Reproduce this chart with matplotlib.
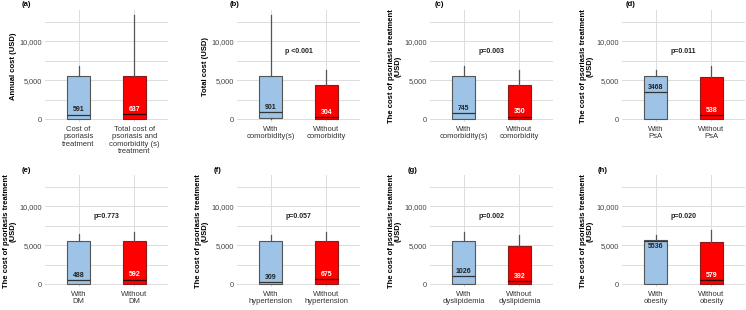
import matplotlib.pyplot as plt
from matplotlib.ticker import MultipleLocator, FuncFormatter

plt.rcParams['font.family'] = ['Liberation Sans', 'DejaVu Sans']

# Data
panel_tags = ['(a)', '(b)', '(c)', '(d)', '(e)', '(f)', '(g)', '(h)']
y_titles = ['Annual cost (USD)', 'Total cost (USD)'] + \
    ['The cost of psoriasis treatment\n(USD)'] * 6
groups = [
    ['Cost of\npsoriasis\ntreatment', 'Total cost of\npsoriasis and\ncomorbidity (s)\ntreatment'],
    ['With\ncomorbidity(s)', 'Without\ncomorbidity'],
    ['With\ncomorbidity(s)', 'Without\ncomorbidity'],
    ['With\nPsA', 'Without\nPsA'],
    ['With\nDM', 'Without\nDM'],
    ['With\nhypertension', 'Without\nhypertension'],
    ['With\ndyslipidemia', 'Without\ndyslipidemia'],
    ['With\nobesity', 'Without\nobesity'],
]
medians = [[591, 637], [901, 304], [745, 350], [3468, 538],
           [488, 592], [309, 675], [1026, 392], [5536, 579]]
q1 = [[80, 80], [120, 80], [80, 80], [80, 80],
      [80, 80], [80, 80], [80, 80], [80, 80]]
q3 = [[5500, 5600], [5600, 4350], [5500, 4350], [5500, 5400],
      [5550, 5550], [5550, 5550], [5550, 4850], [5650, 5450]]
whisk_hi = [[6800, 13300], [13300, 6350], [6800, 6300], [6300, 6800],
            [6450, 6750], [6350, 6750], [6750, 6350], [6350, 7000]]
p_text = ['', 'p <0.001', 'p=0.003', 'p=0.011',
          'p=0.773', 'p=0.057', 'p=0.002', 'p=0.020']

box_colors = ['#9dc3e6', '#ff0000']
label_colors = ['#222222', 'white']

W, H = 746, 310
fig = plt.figure(figsize=(W / 100, H / 100), dpi=100)

col_left = [45, 237, 430, 622]
ax_w = 123
row_top = [10, 175]
ax_h = 112
tag_x = [22, 230, 435, 626, 22, 214, 408, 598]
tag_y = [5, 170]

for i in range(8):
    r, c = divmod(i, 4)
    ax = fig.add_axes([col_left[c] / W, 1 - (row_top[r] + ax_h) / H,
                       ax_w / W, ax_h / H])
    stats = []
    for j in range(2):
        stats.append(dict(med=medians[i][j], q1=q1[i][j], q3=q3[i][j],
                          whislo=0, whishi=whisk_hi[i][j]))
    bp = ax.bxp(stats, positions=[0, 1], widths=0.4, patch_artist=True,
                showcaps=False, showfliers=False,
                whiskerprops=dict(color='#555555', lw=0.9),
                medianprops=dict(color='#333333', lw=0.9),
                boxprops=dict(edgecolor='#555555', lw=0.8))
    for j, patch in enumerate(bp['boxes']):
        patch.set_facecolor(box_colors[j])
        if j == 1:
            patch.set_edgecolor('#8b1a1a')
            bp['medians'][j].set_color('#300000')
        med = medians[i][j]
        if med + 700 > q3[i][j]:
            ax.text(j, med - 250, str(med), ha='center', va='top',
                    fontsize=5, fontweight='bold', color=label_colors[j])
        else:
            ax.text(j, med + 150, str(med), ha='center', va='bottom',
                    fontsize=5, fontweight='bold', color=label_colors[j])

    if p_text[i]:
        ax.text(0.5, 8650, p_text[i], ha='center', va='center',
                fontsize=5, fontweight='bold', color='#222222')

    ax.set_xlim(-0.6, 1.6)
    ax.set_ylim(-350, 14000)
    ax.yaxis.set_major_locator(MultipleLocator(5000))
    ax.yaxis.set_minor_locator(MultipleLocator(2500))
    ax.yaxis.set_major_formatter(FuncFormatter(lambda v, p: f'{int(v):,}'))
    ax.set_xticks([0, 1])
    ax.set_xticklabels(groups[i], fontsize=5.5, color='#333333', linespacing=1.05)
    ax.tick_params(axis='y', labelsize=5.3, labelcolor='#444444', length=0, pad=2)
    ax.tick_params(axis='x', length=0, pad=3)
    ax.tick_params(which='minor', length=0)
    ax.grid(True, which='both', axis='y', color='#dcdcdc', lw=0.7)
    ax.grid(True, which='major', axis='x', color='#dcdcdc', lw=0.7)
    ax.set_axisbelow(True)
    for s in ax.spines.values():
        s.set_visible(False)
    ax.set_ylabel(y_titles[i], fontsize=5.5, fontweight='bold',
                  linespacing=1.05, labelpad=2)

    fig.text(tag_x[i] / W, 1 - tag_y[r] / H, panel_tags[i], fontsize=5.5,
             fontweight='bold', va='center', ha='left')

fig.savefig('out.png', dpi=100)
